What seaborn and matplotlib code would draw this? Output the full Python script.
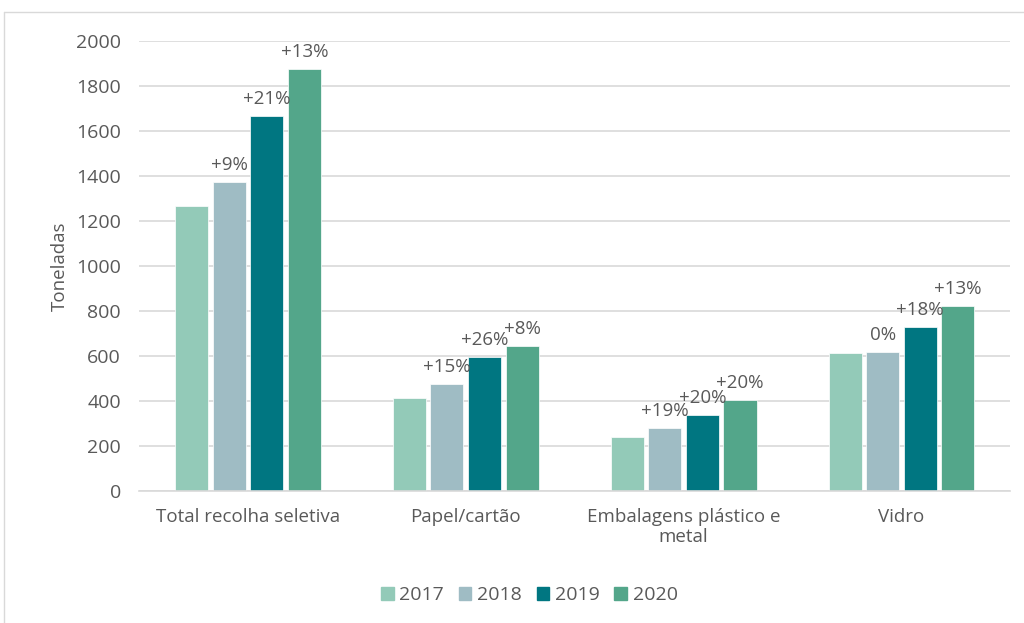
import matplotlib
matplotlib.use("Agg")
import matplotlib.pyplot as plt
from matplotlib.lines import Line2D
import seaborn as sns
import pandas as pd

# Data
categories = ["Total recolha seletiva", "Papel/cartão", "Embalagens plástico e\nmetal", "Vidro"]
years = ["2017", "2018", "2019", "2020"]
v2017 = [1267, 413, 240, 613]
v2018 = [1373, 476, 280, 618]
v2019 = [1667, 596, 338, 729]
v2020 = [1876, 644, 404, 822]
# growth labels vs previous year (none for 2017)
g2018 = ["+9%", "+15%", "+19%", "0%"]
g2019 = ["+21%", "+26%", "+20%", "+18%"]
g2020 = ["+13%", "+8%", "+20%", "+13%"]

colors = ["#93CAB8", "#9FBCC4", "#007681", "#53A68A"]
text_col = "#595959"

rows = []
for yr, vals in zip(years, [v2017, v2018, v2019, v2020]):
    for cat, v in zip(categories, vals):
        rows.append({"Categoria": cat, "Ano": yr, "Toneladas": v})
df = pd.DataFrame(rows)

sns.set_theme(style="white")
plt.rcParams["font.family"] = ["Open Sans", "DejaVu Sans"]

fig = plt.figure(figsize=(10.24, 6.23), dpi=100)
ax = fig.add_axes([0.1357, 0.2119, 0.851, 0.7223])

sns.barplot(data=df, x="Categoria", y="Toneladas", hue="Ano", order=categories,
            hue_order=years, palette=colors, saturation=1, width=0.69, gap=0.12,
            edgecolor="white", linewidth=0.5, ax=ax, legend=True)

# percentage labels on 2018-2020 bars
for cont, labs in zip(ax.containers[1:], [g2018, g2019, g2020]):
    ax.bar_label(cont, labels=labs, padding=6, fontsize=13.5, color=text_col)

ax.set_ylim(0, 2000)
ax.set_xlim(-0.5, 3.5)
ax.set_yticks(range(0, 2001, 200))
ax.yaxis.grid(True, color="#D9D9D9", linewidth=1.2)
ax.set_axisbelow(True)
for s in ["top", "right", "left"]:
    ax.spines[s].set_visible(False)
ax.spines["bottom"].set_color("#D9D9D9")
ax.spines["bottom"].set_linewidth(1.2)
ax.tick_params(axis="both", length=0, labelcolor=text_col)
ax.tick_params(axis="x", pad=12, labelsize=13.5)
ax.tick_params(axis="y", pad=13, labelsize=14)
ax.set_xlabel("")
ax.set_ylabel("Toneladas", fontsize=13.5, color=text_col, labelpad=5)

ax.legend_.remove()
handles = [plt.Rectangle((0, 0), 1, 1, color=c) for c in colors]
fig.legend(handles, years, loc="center", bbox_to_anchor=(0.517, 0.045), ncol=4,
           frameon=False, fontsize=14, labelcolor=text_col, handlelength=0.65,
           handleheight=0.65, handletextpad=0.3, columnspacing=0.75)

# chart frame border (top and left visible)
fig.add_artist(Line2D([4 / 1024, 1.0], [1 - 12 / 623, 1 - 12 / 623], color="#D9D9D9", lw=1))
fig.add_artist(Line2D([4 / 1024, 4 / 1024], [0, 1 - 12 / 623], color="#D9D9D9", lw=1))

fig.savefig("out.png", dpi=100)
